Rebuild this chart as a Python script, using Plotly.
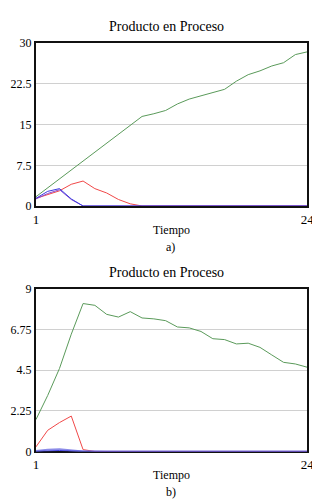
import plotly.graph_objects as go

tiempo = list(range(1, 25))

# Chart a)
a_verde = [1.7, 3.35, 5.0, 6.65, 8.3, 9.95, 11.6, 13.25, 14.9, 16.5, 17.0, 17.6,
           18.8, 19.7, 20.3, 20.9, 21.5, 23.0, 24.2, 24.9, 25.8, 26.4, 27.9, 28.4]
a_rojo = [1.4, 2.1, 2.8, 4.0, 4.6, 3.2, 2.4, 1.2, 0.4, 0, 0, 0,
          0, 0, 0, 0, 0, 0, 0, 0, 0, 0, 0, 0]
a_morado = [1.3, 2.3, 3.0, 1.2, 0, 0, 0, 0, 0, 0, 0, 0,
            0, 0, 0, 0, 0, 0, 0, 0, 0, 0, 0, 0]
a_azul = [1.4, 2.7, 3.2, 1.3, 0, 0, 0, 0, 0, 0, 0, 0,
          0, 0, 0, 0, 0, 0, 0, 0, 0, 0, 0, 0]

# Chart b)
b_verde = [1.76, 3.1, 4.6, 6.5, 8.2, 8.1, 7.6, 7.45, 7.75, 7.4, 7.35, 7.25,
           6.9, 6.85, 6.65, 6.25, 6.2, 5.96, 6.0, 5.77, 5.35, 4.94, 4.85, 4.67]
b_rojo = [0.25, 1.17, 1.6, 1.96, 0.1, 0, 0, 0, 0, 0, 0, 0,
          0, 0, 0, 0, 0, 0, 0, 0, 0, 0, 0, 0]
b_lila = [0.02, 0.1, 0.12, 0.05, 0, 0, 0, 0, 0, 0, 0, 0,
          0, 0, 0, 0, 0, 0, 0, 0, 0, 0, 0, 0]
b_azul = [0, 0.04, 0.05, 0.02, 0, 0, 0, 0, 0, 0, 0, 0,
          0, 0, 0, 0, 0, 0, 0, 0, 0, 0, 0, 0]

a_yticks = [0, 7.5, 15, 22.5, 30]
a_ytext = ["0", "7.5", "15", "22.5", "30"]
b_yticks = [0, 2.25, 4.5, 6.75, 9]
b_ytext = ["0", "2.25", "4.5", "6.75", "9"]
x_ticks = [1, 24]

VERDE = "#5a9a5a"
ROJO = "#f04848"
AZUL = "#3c3ce0"
MORADO = "#8a4ad0"
LILA = "#8c8ce8"

FONT = "'Liberation Serif', 'DejaVu Serif', 'Times New Roman', serif"

fig = go.Figure()

def add(x, y, color, xa, ya, w=1):
    fig.add_trace(go.Scatter(x=x, y=y, mode="lines", line=dict(color=color, width=w),
                             xaxis=xa, yaxis=ya, showlegend=False, hoverinfo="skip"))

add(tiempo, a_verde, VERDE, "x", "y")
add(tiempo, a_rojo, ROJO, "x", "y")
add(tiempo, a_morado, MORADO, "x", "y")
add(tiempo, a_azul, AZUL, "x", "y")

add(tiempo, b_verde, VERDE, "x2", "y2")
add(tiempo, b_rojo, ROJO, "x2", "y2")
add(tiempo, b_lila, LILA, "x2", "y2", 2)
add(tiempo, b_azul, AZUL, "x2", "y2")

xdom = [25.7 / 320, 305.7 / 320]

def xaxis(anchor):
    return dict(domain=xdom, range=[1, 24], tickvals=x_ticks, showgrid=False,
                zeroline=False, showline=True, mirror=True, linecolor="#111111",
                linewidth=2, ticks="", anchor=anchor, layer="below traces",
                tickfont=dict(family=FONT, size=13, color="black"),
                title=dict(text="Tiempo", font=dict(family=FONT, size=12, color="black"),
                           standoff=0))

def yaxis(anchor, dom, rng, tv, tt):
    return dict(domain=dom, range=rng, tickvals=tv, ticktext=tt, showgrid=True,
                gridcolor="#d0d0d0", gridwidth=1, zeroline=False, showline=True,
                mirror=True, linecolor="#111111", linewidth=2, ticks="",
                anchor=anchor, layer="below traces",
                tickfont=dict(family=FONT, size=12, color="black"))

fig.update_layout(
    width=320, height=500,
    margin=dict(l=0, r=0, t=0, b=0),
    paper_bgcolor="white", plot_bgcolor="white",
    xaxis=xaxis("y"),
    yaxis=yaxis("x", [1 - 196.5 / 500, 1 - 29 / 500], [0, 30], a_yticks, a_ytext),
    xaxis2=xaxis("y2"),
    yaxis2=yaxis("x2", [1 - 449 / 500, 1 - 282 / 500], [0, 9], b_yticks, b_ytext),
    annotations=[
        dict(text="Producto en Proceso", x=0.5, y=1 - 12 / 500, xref="paper", yref="paper",
             showarrow=False, font=dict(family=FONT, size=14, color="black"),
             xanchor="center", yanchor="middle"),
        dict(text="a)", x=165 / 320, y=1 - 239 / 500, xref="paper", yref="paper",
             showarrow=False, font=dict(family=FONT, size=12, color="black"),
             xanchor="center", yanchor="middle"),
        dict(text="Producto en Proceso", x=0.5, y=1 - 265 / 500, xref="paper", yref="paper",
             showarrow=False, font=dict(family=FONT, size=14, color="black"),
             xanchor="center", yanchor="middle"),
        dict(text="b)", x=165 / 320, y=0.0, xref="paper", yref="paper",
             showarrow=False, font=dict(family=FONT, size=12, color="black"),
             xanchor="center", yanchor="bottom"),
    ],
)

fig.write_html("out.html")
